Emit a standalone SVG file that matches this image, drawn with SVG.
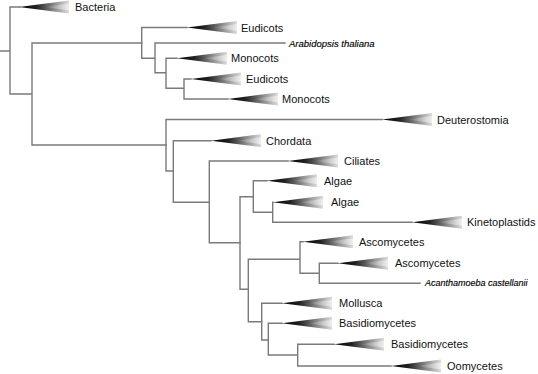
<svg xmlns="http://www.w3.org/2000/svg" xmlns:xlink="http://www.w3.org/1999/xlink" width="538" height="374" viewBox="0 0 538 374">
<style>
.c{fill:none;stroke:#7a7a7a;stroke-width:1.4;stroke-linecap:square}
.l{font-family:"Liberation Sans",Arial,sans-serif;font-size:11px;fill:#111;dominant-baseline:central}
.i{font-family:"Liberation Sans",Arial,sans-serif;font-size:9px;font-style:italic;fill:#000;stroke:#000;stroke-width:0.15;dominant-baseline:central}
</style>
<defs>
<linearGradient id="g" x1="0" y1="0" x2="1" y2="0">
<stop offset="0" stop-color="#000"/>
<stop offset="0.35" stop-color="#222"/>
<stop offset="0.7" stop-color="#8a8a8a"/>
<stop offset="1" stop-color="#dcdcdc"/>
</linearGradient>
<linearGradient id="g2" x1="0" y1="0" x2="1" y2="0">
<stop offset="0" stop-color="#fff" stop-opacity="0"/>
<stop offset="1" stop-color="#fff" stop-opacity="0.55"/>
</linearGradient>
<g id="w">
<path d="M-50,0 L0,-6.5 L0,6.5 Z" fill="url(#g)"/>
<path d="M-24,0 L0,-3.5 L0,3.5 Z" fill="url(#g2)"/>
</g>
</defs>
<rect width="538" height="374" fill="#fff"/>
<g id="connectors">
<path class="c" d="M0,51 H10 M10,7 V94 M10,7 H20 M10,94 H32 M32,43 V145 M32,43 H141.7 M32,145 H166"/>
<path class="c" d="M141.7,27.5 V58.3 M141.7,27.5 H187 M141.7,58.3 H155 M155,43 V72.7 M155,43 H285 M155,72.7 H166 M166,58.3 V88.3 M166,58.3 H177 M166,88.3 H184 M184,79 V99 M184,79 H191 M184,99 H228"/>
<path class="c" d="M166,119.5 V171 M166,119.5 H382 M166,171 H173.3 M173.3,140.7 V202.3 M173.3,140.7 H211 M173.3,202.3 H209.3 M209.3,161 V242.7 M209.3,161 H288 M209.3,242.7 H240"/>
<path class="c" d="M240,196.7 V289.3 M240,196.7 H253.3 M240,289.3 H248.3 M253.3,180.7 V212.3 M253.3,180.7 H267 M253.3,212.3 H272.7 M272.7,202.3 V222.3 M272.7,202.3 H273 M272.7,222.3 H412"/>
<path class="c" d="M248.3,259.3 V321.7 M248.3,259.3 H300 M248.3,321.7 H261.7 M300,241.7 V273.3 M300,241.7 H303 M300,273.3 H319.3 M319.3,263.3 V283.3 M319.3,263.3 H338 M319.3,283.3 H420"/>
<path class="c" d="M261.7,303.3 V340 M261.7,303.3 H282 M261.7,340 H268.3 M268.3,323.3 V355 M268.3,323.3 H282 M268.3,355 H297.7 M297.7,344.3 V366 M297.7,344.3 H334 M297.7,366 H391"/>
</g>
<g id="bacteria"><use xlink:href="#w" x="69" y="7"/><text class="l" x="75" y="7">Bacteria</text></g>
<g id="eudicots1"><use xlink:href="#w" x="237" y="27.5"/><text class="l" x="241" y="27.5">Eudicots</text></g>
<g id="arabidopsis"><text class="i" x="289" y="43" style="font-size:9.5px">Arabidopsis thaliana</text></g>
<g id="monocots1"><use xlink:href="#w" x="227" y="58.3"/><text class="l" x="231" y="58.3">Monocots</text></g>
<g id="eudicots2"><use xlink:href="#w" x="241" y="79"/><text class="l" x="246" y="79">Eudicots</text></g>
<g id="monocots2"><use xlink:href="#w" x="278" y="99"/><text class="l" x="282" y="99">Monocots</text></g>
<g id="deuterostomia"><use xlink:href="#w" x="432" y="119.5"/><text class="l" x="437" y="119.5">Deuterostomia</text></g>
<g id="chordata"><use xlink:href="#w" x="261" y="140.7"/><text class="l" x="266" y="140.7">Chordata</text></g>
<g id="ciliates"><use xlink:href="#w" x="338" y="161"/><text class="l" x="344" y="161">Ciliates</text></g>
<g id="algae1"><use xlink:href="#w" x="317" y="180.7"/><text class="l" x="324" y="180.7">Algae</text></g>
<g id="algae2"><use xlink:href="#w" x="323" y="202.3"/><text class="l" x="331" y="202.3">Algae</text></g>
<g id="kinetoplastids"><use xlink:href="#w" x="462" y="222.3"/><text class="l" x="467" y="222.3">Kinetoplastids</text></g>
<g id="ascomycetes1"><use xlink:href="#w" x="353" y="241.7"/><text class="l" x="359" y="241.7">Ascomycetes</text></g>
<g id="ascomycetes2"><use xlink:href="#w" x="388" y="263.3"/><text class="l" x="395" y="263.3">Ascomycetes</text></g>
<g id="acanthamoeba"><text class="i" x="425" y="283.3">Acanthamoeba castellanii</text></g>
<g id="mollusca"><use xlink:href="#w" x="332" y="303.3"/><text class="l" x="339" y="303.3">Mollusca</text></g>
<g id="basidiomycetes1"><use xlink:href="#w" x="332" y="323.3"/><text class="l" x="339" y="323.3">Basidiomycetes</text></g>
<g id="basidiomycetes2"><use xlink:href="#w" x="384" y="344.3"/><text class="l" x="391" y="344.3">Basidiomycetes</text></g>
<g id="oomycetes"><use xlink:href="#w" x="441" y="366"/><text class="l" x="447" y="366">Oomycetes</text></g>
</svg>
